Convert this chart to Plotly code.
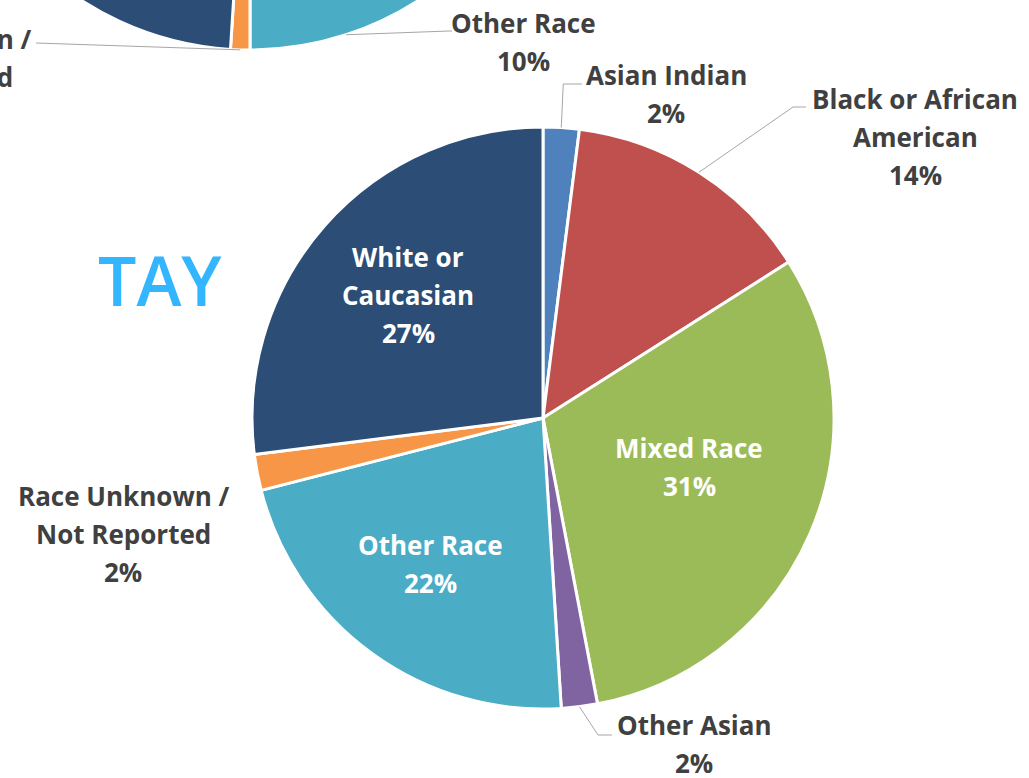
import math
import plotly.graph_objects as go

# ---------------- data ----------------
categories = ["Asian Indian", "Black or African American", "Mixed Race", "Other Asian",
              "Other Race", "Race Unknown / Not Reported", "White or Caucasian"]
tay_pct = [2, 14, 31, 2, 22, 2, 27]            # TAY pie (fully visible)
upper_pct = [3, 12, 21, 4, 10, 1, 49]          # pie above (only the bottom is visible)
colors = ["#4F81BD", "#C0504D", "#9BBB59", "#8064A2", "#4BACC6", "#F79646", "#2C4D75"]
wrap = {"Black or African American": ["Black or African", "American"],
        "Race Unknown / Not Reported": ["Race Unknown /", "Not Reported"],
        "White or Caucasian": ["White or", "Caucasian"]}
title_text = "TAY"

# ---------------- canvas (virtual page, shifted so the visible crop matches) ----------------
OX, OY = 200, 660
W, H = 1029 + OX, 778 + OY
def px(x): return (x + OX) / W
def py(y): return 1 - (y + OY) / H

FONT = "Open Sans"
FS = 26
DARK = "#404040"

# pie geometry (pixels in visible frame)
MC, MR = (543, 418), 291
UC, UR = (250, -261), 311

fig = go.Figure()
def add_pie(vals, c, r):
    fig.add_trace(go.Pie(
        labels=categories, values=vals, sort=False, direction="clockwise", rotation=0,
        marker=dict(colors=colors, line=dict(color="white", width=3)),
        textinfo="none", hoverinfo="label+percent", showlegend=False,
        domain=dict(x=[px(c[0] - r), px(c[0] + r)], y=[py(c[1] + r), py(c[1] - r)])))
add_pie(upper_pct, UC, UR)
add_pie(tay_pct, MC, MR)

def mid_point(vals, idx, c, r):
    tot = sum(vals)
    cum = sum(vals[:idx]) + vals[idx] / 2
    a = 2 * math.pi * cum / tot
    return c[0] + r * math.sin(a), c[1] - r * math.cos(a)

annotations = []
def add_label(idx, vals, cx, y0, color, show_pct=True):
    name = categories[idx]
    lines = wrap.get(name, [name])
    if show_pct:
        lines = lines + [f"{round(100 * vals[idx] / sum(vals))}%"]
    for k, t in enumerate(lines):
        annotations.append(dict(x=px(cx), y=py(y0 + 38 * k), xref="paper", yref="paper",
                                text=f"<b>{t}</b>", showarrow=False, xanchor="center",
                                yanchor="middle", font=dict(family=FONT, size=FS, color=color)))

# TAY labels
add_label(0, tay_pct, 666, 75, DARK)
add_label(1, tay_pct, 915, 99, DARK)
add_label(2, tay_pct, 689, 448, "white")
add_label(3, tay_pct, 694, 725, DARK)
add_label(4, tay_pct, 430, 545, "white")
add_label(5, tay_pct, 123, 496, DARK)
add_label(6, tay_pct, 408, 257, "white")
# upper pie labels (visible ones)
add_label(4, upper_pct, 523, 23, DARK)
add_label(5, upper_pct, -75, 39, DARK)

annotations.append(dict(x=px(160), y=py(279), xref="paper", yref="paper", text=title_text,
                        showarrow=False, xanchor="center", yanchor="middle",
                        font=dict(family=FONT, size=68, weight=600, color="#33B5FF")))

# leader lines
shapes = []
def leader(pts):
    for (x0, y0), (x1, y1) in zip(pts[:-1], pts[1:]):
        shapes.append(dict(type="line", xref="paper", yref="paper",
                           x0=px(x0), y0=py(y0), x1=px(x1), y1=py(y1),
                           line=dict(color="#A6A6A6", width=1)))

p = mid_point(tay_pct, 0, MC, MR); leader([p, (p[0] + 2, 84), (582, 84)])
p = mid_point(tay_pct, 1, MC, MR); leader([p, (793, 107), (806, 107)])
p = mid_point(tay_pct, 3, MC, MR); leader([p, (598, 735), (612, 735)])
p = mid_point(upper_pct, 4, UC, UR); leader([p, (449, 31), (452, 31)])
p = mid_point(upper_pct, 5, UC, UR); leader([p, (36, 43)])

fig.update_layout(width=W, height=H, margin=dict(l=0, r=0, t=0, b=0),
                  paper_bgcolor="white", plot_bgcolor="white",
                  annotations=annotations, shapes=shapes)

post = ("var gd=document.getElementById('{plot_id}');"
        "document.body.style.margin='0';document.body.style.overflow='hidden';"
        f"gd.style.position='absolute';gd.style.left='-{OX}px';gd.style.top='-{OY}px';")
fig.write_html("out.html", post_script=post, config={"displayModeBar": False})
